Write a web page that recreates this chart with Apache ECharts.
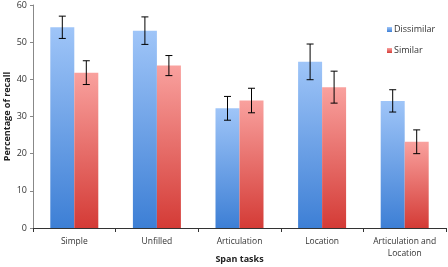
<!DOCTYPE html>
<html>
<head>
<meta charset="utf-8">
<script src="https://cdn.jsdelivr.net/npm/echarts@6/dist/echarts.min.js"></script>
<style>
  html, body { margin: 0; padding: 0; background: #fff; }
  #main { width: 448px; height: 267px; }
</style>
</head>
<body>
<div id="main"></div>
<script>
var categories = ['Simple', 'Unfilled', 'Articulation', 'Location', 'Articulation and\nLocation'];
var dissimilar = [54.0, 53.1, 32.2, 44.7, 34.2];
var similar = [41.8, 43.7, 34.3, 37.9, 23.2];
var dissimilarErr = [3.0, 3.7, 3.2, 4.8, 3.0];
var similarErr = [3.2, 2.7, 3.3, 4.3, 3.2];
var yTicks = [0, 10, 20, 30, 40, 50, 60];

var FONT = '"Open Sans", sans-serif';
var BAR_W = 24;

function grad(top, bottom) {
    return new echarts.graphic.LinearGradient(0, 0, 0, 1, [
        { offset: 0, color: top },
        { offset: 1, color: bottom }
    ]);
}

// error bar drawn through the category axis, shifted to its bar
function errorSeries(values, errs, shift) {
    var data = values.map(function (v, i) { return [i, v - errs[i], v + errs[i]]; });
    return {
        type: 'custom',
        silent: true,
        z: 10,
        data: data,
        renderItem: function (params, api) {
            var lo = api.coord([api.value(0), api.value(1)]);
            var hi = api.coord([api.value(0), api.value(2)]);
            var x = lo[0] + shift;
            var cap = 3.5;
            var st = { stroke: '#000', lineWidth: 1 };
            return {
                type: 'group',
                children: [
                    { type: 'line', shape: { x1: x, y1: hi[1], x2: x, y2: lo[1] }, style: st },
                    { type: 'line', shape: { x1: x - cap, y1: hi[1], x2: x + cap, y2: hi[1] }, style: st },
                    { type: 'line', shape: { x1: x - cap, y1: lo[1], x2: x + cap, y2: lo[1] }, style: st }
                ]
            };
        }
    };
}

var myChart = echarts.init(document.getElementById('main'));
var option = {
    animation: false,
    textStyle: { fontFamily: FONT },
    grid: { left: 33, right: 2, top: 5, bottom: 39, containLabel: false, outerBoundsMode: 'none' },
    legend: {
        orient: 'vertical',
        left: 382,
        top: 20,
        itemWidth: 5,
        itemHeight: 5,
        itemGap: 12,
        icon: 'rect',
        textStyle: { fontSize: 9, color: '#333', fontFamily: FONT, padding: [0, 0, 0, -3] },
        data: ['Dissimilar', 'Similar']
    },
    xAxis: {
        type: 'category',
        data: categories,
        name: 'Span tasks',
        nameLocation: 'middle',
        nameMoveOverlap: false,
        nameGap: 27,
        nameTextStyle: { fontSize: 9, fontWeight: 'bold', color: '#222', fontFamily: FONT },
        axisLine: { lineStyle: { color: '#333', width: 1 } },
        axisTick: { show: true, length: 4, lineStyle: { color: '#333' } },
        axisLabel: { fontSize: 8.5, color: '#333', margin: 8, lineHeight: 12, interval: 0 },
        splitLine: { show: false }
    },
    yAxis: {
        type: 'value',
        min: yTicks[0],
        max: yTicks[yTicks.length - 1],
        interval: 10,
        name: 'Percentage of recall',
        nameLocation: 'middle',
        nameMoveOverlap: false,
        nameGap: 21,
        nameTextStyle: { fontSize: 9, fontWeight: 'bold', color: '#222', fontFamily: FONT },
        axisLine: { show: true, lineStyle: { color: '#888', width: 1 } },
        axisTick: { show: true, length: 3, lineStyle: { color: '#888' } },
        axisLabel: { fontSize: 9, color: '#333', margin: 6 },
        splitLine: { show: false }
    },
    series: [
        {
            name: 'Dissimilar',
            type: 'bar',
            barWidth: BAR_W,
            barGap: '0%',
            data: dissimilar,
            itemStyle: { color: grad('#9fc5f8', '#3d7fd5') }
        },
        {
            name: 'Similar',
            type: 'bar',
            barWidth: BAR_W,
            barGap: '0%',
            data: similar,
            itemStyle: { color: grad('#f9a19e', '#d43b36') }
        },
        errorSeries(dissimilar, dissimilarErr, -BAR_W / 2),
        errorSeries(similar, similarErr, BAR_W / 2)
    ]
};
myChart.setOption(option);
</script>
</body>
</html>
